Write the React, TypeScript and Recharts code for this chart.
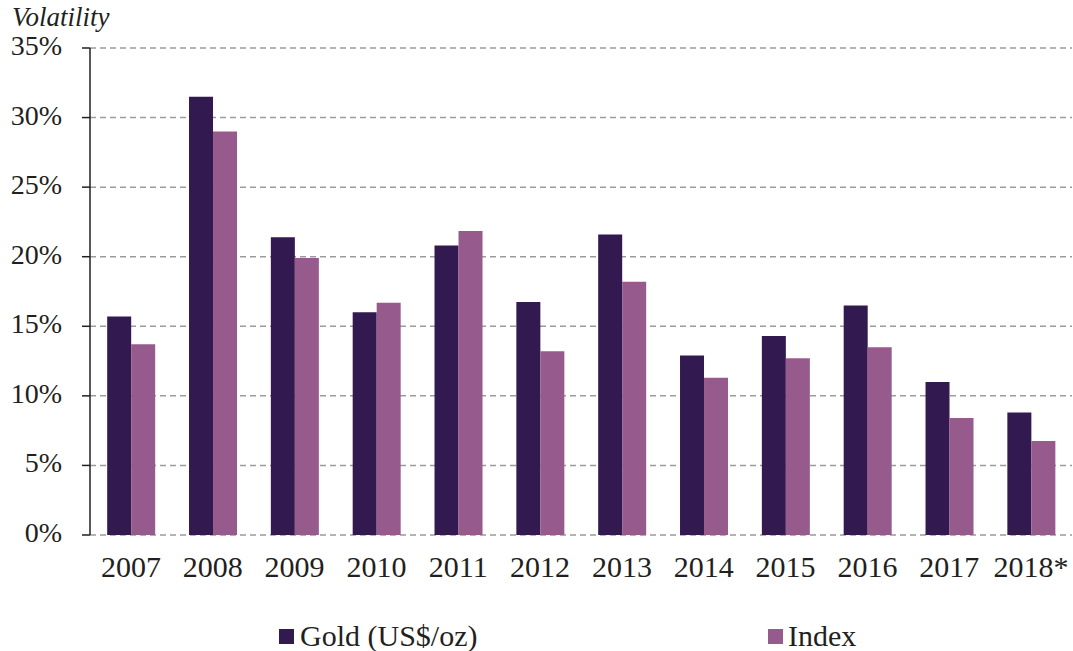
import { BarChart, Bar, XAxis, YAxis, CartesianGrid } from "recharts";

const years = ["2007", "2008", "2009", "2010", "2011", "2012", "2013", "2014", "2015", "2016", "2017", "2018*"];
const goldVol = [15.7, 31.5, 21.4, 16.0, 20.8, 16.75, 21.6, 12.9, 14.3, 16.5, 11.0, 8.8];
const indexVol = [13.7, 29.0, 19.9, 16.7, 21.85, 13.2, 18.2, 11.3, 12.7, 13.5, 8.4, 6.75];
const yTicks = [0, 5, 10, 15, 20, 25, 30, 35];
const boundaryTicks = [0, 1, 2, 3, 4, 5, 6, 7, 8, 9, 10, 11, 12];

const GOLD = "#32194f";
const INDEX = "#975a8c";
const FONT = "Liberation Serif, DejaVu Serif, Times New Roman, serif";

const data = years.map((year, i) => ({ year, gold: goldVol[i], index: indexVol[i] }));

export default function App() {
  return (
    <div style={{ position: "absolute", left: 0, top: 0, width: 1073, height: 651, background: "#fff", fontFamily: FONT }}>
      <div style={{ position: "absolute", left: 12, top: 2, fontSize: 27, lineHeight: "30px", fontStyle: "italic", color: "#231f20" }}>
        Volatility
      </div>
      <BarChart
        width={1073}
        height={651}
        data={data}
        margin={{ top: 48, right: 1, left: 0, bottom: 0 }}
        barCategoryGap="21%"
        barGap={0}
        style={{ fontFamily: FONT }}
      >
        <CartesianGrid vertical={false} stroke="#9b9b9b" strokeDasharray="6 4" strokeWidth={1.5} />
        <XAxis
          xAxisId="edges"
          type="number"
          domain={[0, 12]}
          ticks={boundaryTicks}
          height={0}
          tickFormatter={() => ""}
          tickSize={8}
          stroke="#231f20"
          strokeWidth={1.5}
          allowDataOverflow
        />
        <XAxis
          xAxisId="cat"
          dataKey="year"
          height={116}
          axisLine={false}
          tickLine={false}
          tickMargin={15}
          interval={0}
          tick={{ fill: "#231f20", fontSize: 30, fontFamily: FONT }}
        />
        <YAxis
          width={90}
          domain={[0, 35]}
          ticks={yTicks}
          tickFormatter={(v) => `${v}%`}
          tickSize={8}
          tickMargin={20}
          stroke="#231f20"
          strokeWidth={1.5}
          tick={{ fill: "#231f20", fontSize: 28, fontFamily: FONT, dy: -3 }}
        />
        <Bar xAxisId="cat" dataKey="gold" fill={GOLD} isAnimationActive={false} />
        <Bar xAxisId="cat" dataKey="index" fill={INDEX} isAnimationActive={false} />
      </BarChart>
      <div style={{ position: "absolute", left: 279, top: 619, display: "flex", alignItems: "center", fontSize: 30, color: "#231f20", whiteSpace: "nowrap" }}>
        <span style={{ display: "inline-block", width: 15, height: 15, background: GOLD, marginRight: 6 }} />
        Gold (US$/oz)
      </div>
      <div style={{ position: "absolute", left: 768, top: 619, display: "flex", alignItems: "center", fontSize: 30, color: "#231f20", whiteSpace: "nowrap" }}>
        <span style={{ display: "inline-block", width: 15, height: 15, background: INDEX, marginRight: 5 }} />
        Index
      </div>
    </div>
  );
}
